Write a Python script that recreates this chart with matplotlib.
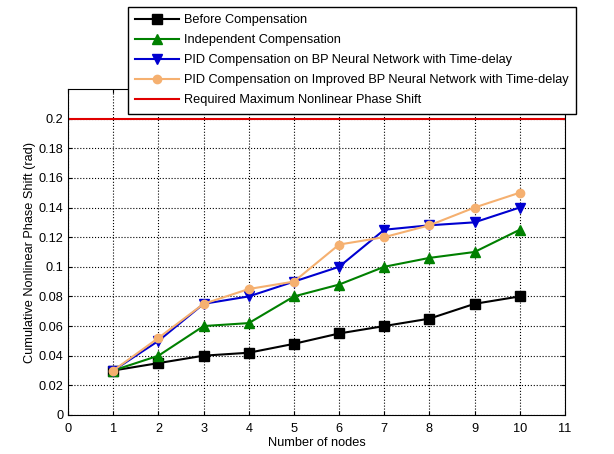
import numpy as np
import matplotlib
matplotlib.use("Agg")
import matplotlib.pyplot as plt

plt.rcParams['font.family'] = ['Liberation Sans', 'DejaVu Sans']
plt.rcParams['font.size'] = 9.2

# data
nodes = [1, 2, 3, 4, 5, 6, 7, 8, 9, 10]
before = [0.030, 0.035, 0.040, 0.042, 0.048, 0.055, 0.060, 0.065, 0.075, 0.080]
independent = [0.030, 0.040, 0.060, 0.062, 0.080, 0.088, 0.100, 0.106, 0.110, 0.125]
pid_bp = [0.030, 0.050, 0.075, 0.080, 0.090, 0.100, 0.125, 0.128, 0.130, 0.140]
pid_improved = [0.030, 0.052, 0.075, 0.085, 0.090, 0.115, 0.120, 0.128, 0.140, 0.150]
required_max = 0.2

fig = plt.figure(figsize=(6.14, 4.54), dpi=100)
ax = fig.add_axes([0.111, 0.086, 0.809, 0.718])

ax.plot(nodes, before, '-s', color='black', lw=1.5, ms=7,
        label='Before Compensation')
ax.plot(nodes, independent, '-^', color='#008000', lw=1.5, ms=7,
        label='Independent Compensation')
ax.plot(nodes, pid_bp, '-v', color='#0000d0', lw=1.5, ms=7,
        label='PID Compensation on BP Neural Network with Time-delay')
ax.plot(nodes, pid_improved, '-o', color='#f5b070', lw=1.5, ms=6,
        label='PID Compensation on Improved BP Neural Network with Time-delay')
ax.axhline(required_max, color='#e00000', lw=1.5,
           label='Required Maximum Nonlinear Phase Shift')

ax.set_xlim(0, 11)
ax.set_ylim(0, 0.22)
ax.set_xticks(np.arange(0, 12, 1))
ax.set_yticks(np.arange(0, 0.201, 0.02))
ax.set_yticklabels(['0', '0.02', '0.04', '0.06', '0.08', '0.1', '0.12',
                    '0.14', '0.16', '0.18', '0.2'])
ax.grid(True, linestyle=':', color='black', lw=0.8)
ax.tick_params(direction='in', length=3, top=True, right=True)
ax.tick_params(axis='x', pad=6)
ax.set_xlabel('Number of nodes', labelpad=1)
ax.set_ylabel('Cumulative Nonlinear Phase Shift (rad)', labelpad=2)

leg = fig.legend(loc='upper left', bbox_to_anchor=(0.208, 0.985),
                 borderaxespad=0, fancybox=False, framealpha=1,
                 edgecolor='black', handlelength=3.4, borderpad=0.6,
                 labelspacing=0.62, handletextpad=0.4, fontsize=9.2)
leg.get_frame().set_linewidth(1.0)

fig.savefig('out.png', dpi=100)
